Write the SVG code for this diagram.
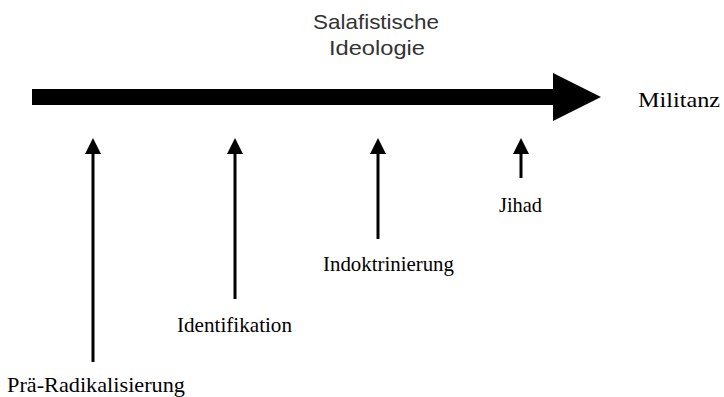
<svg xmlns="http://www.w3.org/2000/svg" width="724" height="397" viewBox="0 0 724 397">
<style>
.lbl{font-family:"Liberation Serif","Times New Roman",serif;font-size:22px;fill:#000}
.ideo{font-family:"Liberation Sans",Arial,sans-serif;font-size:21px;fill:#333}
.conn{stroke:#000;stroke-width:3;fill:none}
.head{fill:#000}
</style>
<g id="main-arrow">
<rect x="32" y="89" width="522" height="16" fill="#000"/>
<polygon points="553,73 601,97 553,121" fill="#000"/>
</g>
<g id="ideology"><text class="ideo" x="376" y="29" text-anchor="middle" textLength="126" lengthAdjust="spacingAndGlyphs">Salafistische</text><text class="ideo" x="377" y="55" text-anchor="middle" textLength="96" lengthAdjust="spacingAndGlyphs">Ideologie</text></g>
<g id="militanz"><text class="lbl" x="638" y="107" font-size="21" textLength="82" lengthAdjust="spacingAndGlyphs">Militanz</text></g>
<g id="connectors">
<line class="conn" x1="93" y1="362" x2="93" y2="152"/>
<polygon class="head" points="93,138 85,154 101,154"/>
<line class="conn" x1="235" y1="299" x2="235" y2="152"/>
<polygon class="head" points="235,138 227,154 243,154"/>
<line class="conn" x1="378" y1="239" x2="378" y2="152"/>
<polygon class="head" points="378,138 370,154 386,154"/>
<line class="conn" x1="521" y1="178" x2="521" y2="152"/>
<polygon class="head" points="521,138 513,154 529,154"/>
</g>
<g id="pre"><text class="lbl" x="7" y="392" textLength="178" lengthAdjust="spacingAndGlyphs">Prä-Radikalisierung</text></g>
<g id="ident"><text class="lbl" x="177" y="332" textLength="115" lengthAdjust="spacingAndGlyphs">Identifikation</text></g>
<g id="indok"><text class="lbl" x="323" y="271" textLength="131" lengthAdjust="spacingAndGlyphs">Indoktrinierung</text></g>
<g id="jihad"><text class="lbl" x="499" y="212" textLength="43" lengthAdjust="spacingAndGlyphs">Jihad</text></g>
</svg>
